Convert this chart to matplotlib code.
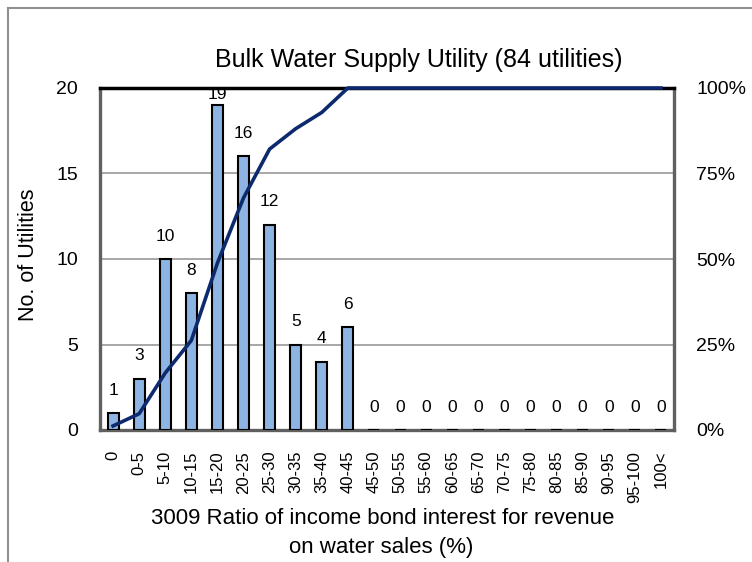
import matplotlib
matplotlib.use("Agg")
import matplotlib.pyplot as plt
from matplotlib.lines import Line2D
import numpy as np

plt.rcParams['font.family'] = ['Liberation Sans', 'DejaVu Sans']

categories = ["0", "0-5", "5-10", "10-15", "15-20", "20-25", "25-30", "30-35",
              "35-40", "40-45", "45-50", "50-55", "55-60", "60-65", "65-70",
              "70-75", "75-80", "80-85", "85-90", "90-95", "95-100", "100<"]
counts = [1, 3, 10, 8, 19, 16, 12, 5, 4, 6, 0, 0, 0, 0, 0, 0, 0, 0, 0, 0, 0, 0]
left_ticks = [0, 5, 10, 15, 20]
right_ticks = [0, 0.25, 0.5, 0.75, 1.0]
right_labels = ["0%", "25%", "50%", "75%", "100%"]

W, H = 752, 562
fig = plt.figure(figsize=(W / 100, H / 100), dpi=100)
L, R, T, B = 100, 674, 88, 430
ax = fig.add_axes([L / W, 1 - B / H, (R - L) / W, (B - T) / H])

x = np.arange(len(categories))
cum = np.cumsum(counts) / np.sum(counts)

ax.bar(x, counts, width=0.42, color="#8DB4E2", edgecolor="black", linewidth=1.5, zorder=3)
ax.set_xlim(-0.5, len(categories) - 0.5)
ax.set_ylim(0, 20)
ax.set_yticks(left_ticks)
ax.set_yticklabels([str(t) for t in left_ticks])
ax.tick_params(axis="y", length=0, pad=16, labelsize=14)
ax.set_xticks(x)
ax.set_xticklabels(categories, rotation=90, fontsize=12)
ax.tick_params(axis="x", length=0, pad=15)
ax.yaxis.grid(True, color="#A0A0A0", linewidth=1.3, zorder=0)
ax.set_axisbelow(True)

for xi, v in zip(x, counts):
    ax.text(xi, min(v + 0.9, 19.2), str(v), ha="center", va="bottom", fontsize=12.5, zorder=5)

for side in ["left", "right", "bottom"]:
    ax.spines[side].set_color("#606060")
    ax.spines[side].set_linewidth(2.4)
ax.spines["top"].set_color("black")
ax.spines["top"].set_linewidth(2.5)

ax2 = ax.twinx()
ax2.plot(x, cum, color="#0D2A6E", linewidth=2.6, clip_on=False, zorder=6)
ax2.set_ylim(0, 1)
ax2.set_yticks(right_ticks)
ax2.set_yticklabels(right_labels)
ax2.tick_params(axis="y", length=0, pad=16, labelsize=14)
for s in ax2.spines.values():
    s.set_visible(False)

fig.text(419 / W, 1 - 60 / H, "Bulk Water Supply Utility (84 utilities)", ha="center", va="center", fontsize=18)
fig.text(28 / W, 1 - 255 / H, "No. of Utilities", ha="center", va="center", rotation=90, fontsize=15.5)
fig.text(383 / W, 1 - 518 / H, "3009 Ratio of income bond interest for revenue", ha="center", va="center", fontsize=16)
fig.text(381 / W, 1 - 547 / H, "on water sales (%)", ha="center", va="center", fontsize=16)

fig.add_artist(Line2D([8 / W, 8 / W], [0, 1 - 8 / H], transform=fig.transFigure, color="#909090", linewidth=1.5))
fig.add_artist(Line2D([8 / W, 1], [1 - 8 / H, 1 - 8 / H], transform=fig.transFigure, color="#909090", linewidth=1.5))

fig.savefig("out.png", dpi=100)
